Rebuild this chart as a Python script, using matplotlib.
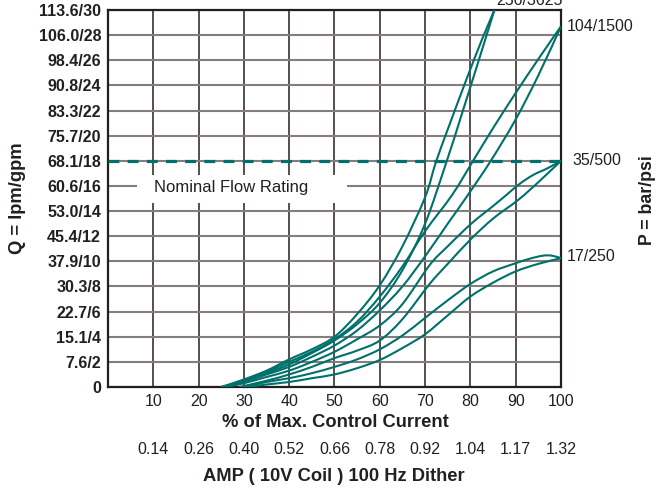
import matplotlib.pyplot as plt
import numpy as np
from matplotlib.transforms import blended_transform_factory
from matplotlib.patches import Rectangle, PathPatch
from matplotlib.path import Path

plt.rcParams['font.family'] = ['Liberation Sans', 'DejaVu Sans']

teal = '#00706a'
ink = '#231f20'

pct_ticks = [10, 20, 30, 40, 50, 60, 70, 80, 90, 100]
amp_labels = ['0.14', '0.26', '0.40', '0.52', '0.66', '0.78', '0.92', '1.04', '1.17', '1.32']
gpm_ticks = [0, 2, 4, 6, 8, 10, 12, 14, 16, 18, 20, 22, 24, 26, 28, 30]
q_labels = ['0', '7.6/2', '15.1/4', '22.7/6', '30.3/8', '37.9/10', '45.4/12', '53.0/14',
            '60.6/16', '68.1/18', '75.7/20', '83.3/22', '90.8/24', '98.4/26', '106.0/28', '113.6/30']
nominal_gpm = 18

# flow (gpm) vs % control current, rising and falling branch for each pressure
p256_up_x = [25, 30, 35, 40, 45, 50, 55, 60, 65, 70, 72.3, 75, 78, 80, 82.5, 85.3]
p256_up_q = [0, 0.6, 1.3, 2.2, 3.0, 4.0, 5.8, 8.1, 11.2, 15.1, 17.8, 20.5, 23.4, 25.3, 27.6, 30]
p256_dn_x = [25.5, 30, 35, 40, 45, 50, 55, 60, 65, 70, 74.8, 78, 81.5, 85.3]
p256_dn_q = [0, 0.5, 1.1, 1.8, 2.7, 3.7, 5.0, 6.7, 9.3, 13.0, 18, 21.6, 25.6, 30]

p104_up_x = [25, 30, 35, 40, 45, 50, 55, 60, 65, 70, 76, 80.6, 85, 90, 95, 100]
p104_up_q = [0, 0.5, 1.2, 2.0, 2.8, 3.8, 5.2, 7.2, 9.6, 12.4, 15.3, 18, 20.6, 23.4, 26.1, 28.7]
p104_dn_x = [26, 30, 35, 40, 45, 50, 55, 60, 65, 70, 75, 79.1, 84.5, 90, 95, 100]
p104_dn_q = [0, 0.4, 1.0, 1.6, 2.4, 3.3, 4.5, 6.1, 8.0, 10.4, 13.0, 15.1, 18, 21.3, 24.8, 28.7]

p35_up_x = [26, 30, 35, 40, 45, 50, 55, 60, 65, 71, 75, 80.2, 85, 88, 91, 94, 97, 100]
p35_up_q = [0, 0.3, 0.8, 1.3, 2.0, 2.8, 3.8, 4.9, 6.6, 9.7, 11.2, 13.0, 14.4, 15.3, 16.2, 16.9, 17.4, 18]
p35_dn_x = [29, 35, 40, 45, 50, 55, 60, 65, 71, 75, 80.2, 85, 90.6, 95, 100]
p35_dn_q = [0, 0.5, 1.0, 1.6, 2.3, 2.9, 3.7, 5.4, 8.2, 9.8, 11.8, 13.4, 14.9, 16.3, 18]

p17_up_x = [30, 35, 40, 45, 50, 55, 60, 65, 70, 75, 80, 85, 90, 93, 96, 98, 100]
p17_up_q = [0, 0.4, 0.7, 1.1, 1.6, 2.2, 3.0, 4.1, 5.5, 6.9, 8.2, 9.2, 9.85, 10.2, 10.45, 10.45, 10.25]
p17_dn_x = [31, 35, 40, 45, 50, 55, 60, 65, 70, 75, 80, 85, 90, 95, 100]
p17_dn_q = [0, 0.2, 0.4, 0.7, 1.0, 1.5, 2.15, 3.1, 4.2, 5.7, 7.2, 8.3, 9.2, 9.8, 10.25]

curves = [
    ('256/3625', p256_up_x, p256_up_q, p256_dn_x, p256_dn_q),
    ('104/1500', p104_up_x, p104_up_q, p104_dn_x, p104_dn_q),
    ('35/500', p35_up_x, p35_up_q, p35_dn_x, p35_dn_q),
    ('17/250', p17_up_x, p17_up_q, p17_dn_x, p17_dn_q),
]
label_offsets = {'256/3625': (1, 7), '104/1500': (4, 0), '35/500': (8, 0), '17/250': (4, 1)}


def smooth_path(xs, ys):
    # catmull-rom through the points, written as cubic bezier segments
    p = np.column_stack([xs, ys]).astype(float)
    p = np.vstack([p[0], p, p[-1]])
    verts = [p[1]]
    codes = [Path.MOVETO]
    for i in range(1, len(p) - 2):
        c1 = p[i] + (p[i + 1] - p[i - 1]) / 6
        c2 = p[i + 1] - (p[i + 2] - p[i]) / 6
        verts += [c1, c2, p[i + 1]]
        codes += [Path.CURVE4] * 3
    return Path(verts, codes)


fig = plt.figure(figsize=(6.58, 4.9), dpi=100)
ax = fig.add_axes([0.1641, 0.2102, 0.6885, 0.7694])

ax.set_xlim(0, 100)
ax.set_ylim(0, 30)
ax.set_xticks(pct_ticks)
ax.set_xticklabels([str(t) for t in pct_ticks], fontsize=11.5)
ax.set_yticks(gpm_ticks)
ax.set_yticklabels(q_labels, fontsize=11.5, fontweight='bold')
ax.tick_params(length=0, pad=5, colors=ink)
ax.xaxis.grid(True, color='#3b3030', linewidth=1.2)
ax.yaxis.grid(True, color='#857d7d', linewidth=1.5)
ax.set_axisbelow(True)
for s in ax.spines.values():
    s.set_linewidth(1.6)
    s.set_color(ink)

# blank out the grid behind the nominal flow caption
ax.add_patch(Rectangle((6.4, 14.66), 46.3, 2.24, facecolor='white', edgecolor='none', zorder=1.5))
ax.text(10.2, 15.85, 'Nominal Flow Rating', fontsize=12, va='center', ha='left',
        color=ink, zorder=3)

ax.axhline(nominal_gpm, color=teal, linewidth=2.3, dashes=(3.4, 2.6), zorder=3)

for label, ux, uq, dx, dq in curves:
    for xs, qs in ((ux, uq), (dx, dq)):
        ax.add_patch(PathPatch(smooth_path(xs, qs), facecolor='none', edgecolor=teal,
                               linewidth=1.5, zorder=4))
    ax.annotate(label, (ux[-1], uq[-1]), xytext=label_offsets[label], textcoords='offset points',
                fontsize=11.5, va='center', ha='left', color=ink, annotation_clip=False)

trans = blended_transform_factory(ax.transData, ax.transAxes)
for t, a in zip(pct_ticks, amp_labels):
    ax.text(t, -0.167, a, transform=trans, ha='center', va='center', fontsize=11.5, color=ink)

fig.text(0.509, 1 - 422 / 490, '% of Max. Control Current', ha='center', va='center',
         fontsize=13.2, fontweight='bold', color=ink)
fig.text(0.508, 1 - 476 / 490, 'AMP ( 10V Coil ) 100 Hz Dither', ha='center', va='center',
         fontsize=13.2, fontweight='bold', color=ink)
fig.text(18 / 658, 1 - 198 / 490, 'Q = lpm/gpm', rotation=90, ha='center', va='center',
         fontsize=13.2, fontweight='bold', color=ink)
fig.text(648 / 658, 1 - 200 / 490, 'P = bar/psi', rotation=90, ha='center', va='center',
         fontsize=12.8, fontweight='bold', color=ink)

fig.savefig('out.png', dpi=100)
